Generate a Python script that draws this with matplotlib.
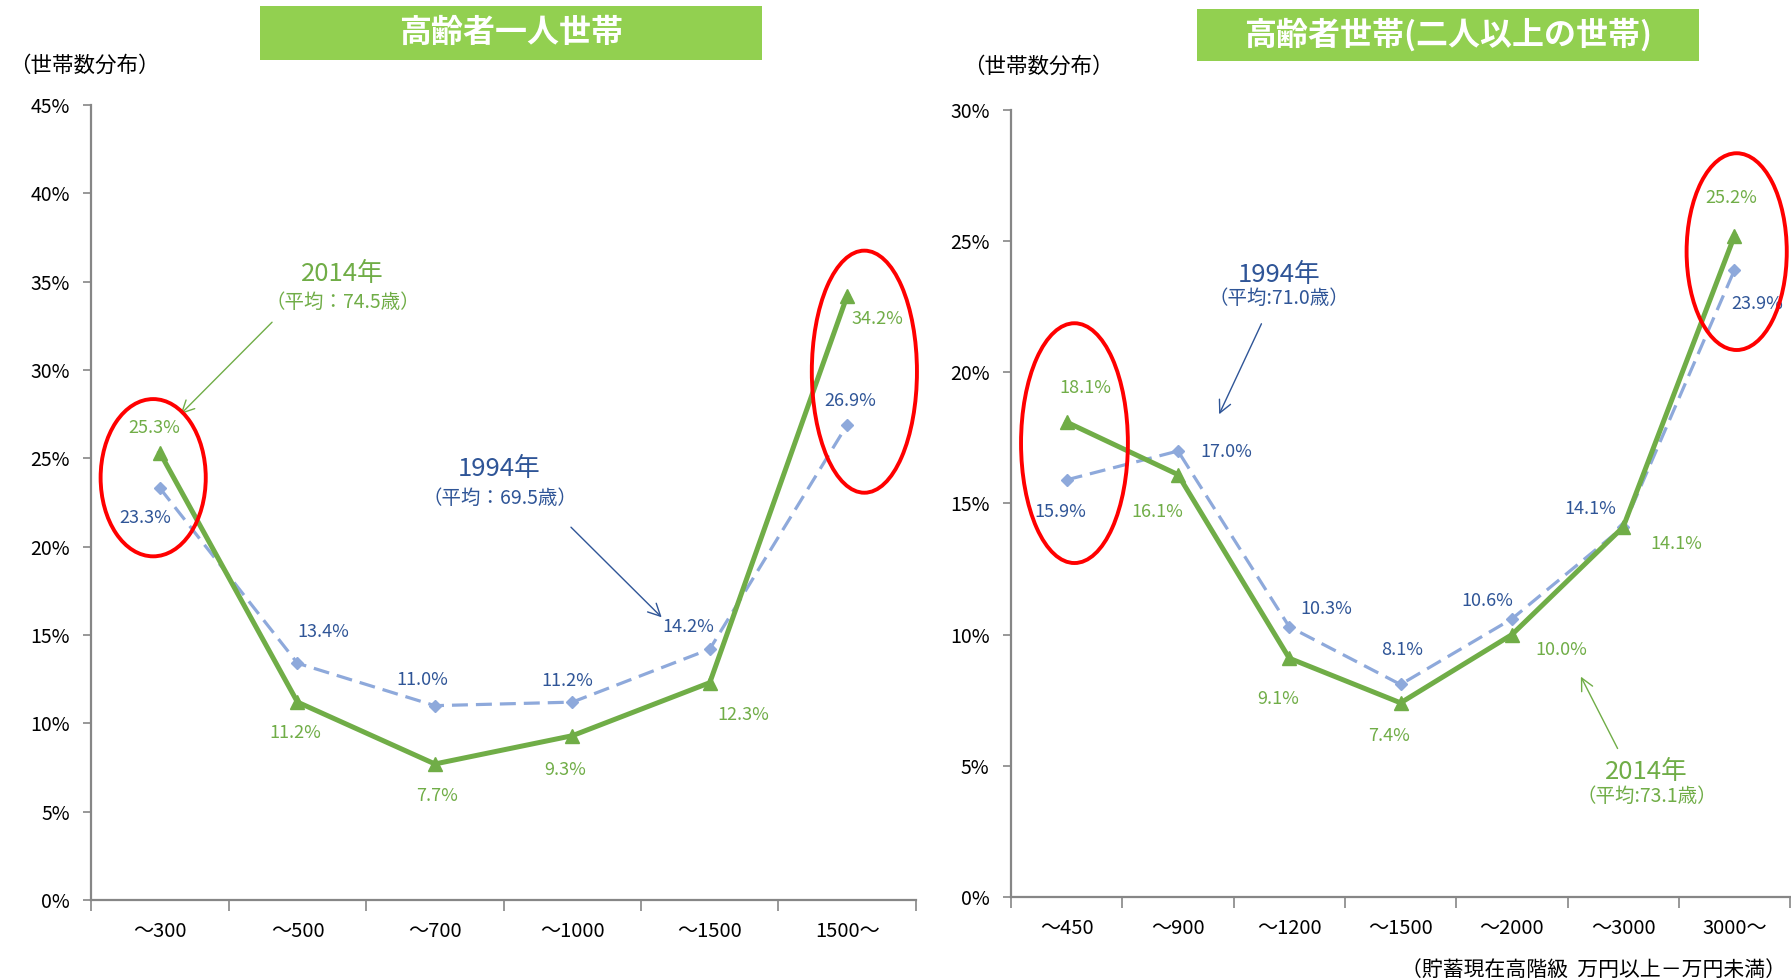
import matplotlib
matplotlib.use("Agg")
import matplotlib.pyplot as plt
from matplotlib.patches import Rectangle, Ellipse
from matplotlib.ticker import FixedLocator, PercentFormatter

plt.rcParams['font.family'] = ['Noto Sans CJK JP', 'DejaVu Sans']

# ---------------- data ----------------
left_cats = ["～300", "～500", "～700", "～1000", "～1500", "1500～"]
left_2014 = [25.3, 11.2, 7.7, 9.3, 12.3, 34.2]
left_1994 = [23.3, 13.4, 11.0, 11.2, 14.2, 26.9]

right_cats = ["～450", "～900", "～1200", "～1500", "～2000", "～3000", "3000～"]
right_2014 = [18.1, 16.1, 9.1, 7.4, 10.0, 14.1, 25.2]
right_1994 = [15.9, 17.0, 10.3, 8.1, 10.6, 14.1, 23.9]

left_title = "高齢者一人世帯"
right_title = "高齢者世帯(二人以上の世帯)"

# label offsets in pixels (style only)
left_off_2014 = [(-6, 25), (-2, -31), (2, -32), (-7, -34), (34, -32), (30, -23)]
left_off_1994 = [(-15, -30), (26, 31), (-13, 26), (-5, 21), (-21, 22), (3, 24)]
right_off_2014 = [(19, 34), (-21, -37), (-11, -41), (-11, -33), (49, -15), (53, -17), (-3, 38)]
right_off_1994 = [(-6, -32), (48, -1), (37, 18), (2, 34), (-25, 18), (-33, 18), (23, -34)]

GREEN = "#70AD47"
LBLUE = "#8EA9DB"
DBLUE = "#2F5597"
AXC = "#868686"
TITLE_BG = "#92D050"

fig = plt.figure(figsize=(17.91, 9.80), dpi=100)
axL = fig.add_axes([0.051, 0.0816, 0.4604, 0.8114])
axR = fig.add_axes([0.5645, 0.0847, 0.435, 0.8031])


def style_axes(ax, cats, ymax):
    n = len(cats)
    ax.set_xlim(-0.5, n - 0.5)
    ax.set_ylim(0, ymax)
    ax.set_yticks(range(0, ymax + 1, 5))
    ax.yaxis.set_major_formatter(PercentFormatter(decimals=0))
    ax.set_xticks(range(n))
    ax.set_xticklabels(cats)
    ax.xaxis.set_minor_locator(FixedLocator([i - 0.5 for i in range(n + 1)]))
    ax.tick_params(axis='x', which='major', length=0, pad=15, labelsize=14.5)
    ax.tick_params(axis='x', which='minor', length=8, color=AXC, width=1.2, direction='out')
    ax.tick_params(axis='y', length=5.5, color=AXC, width=1.2, pad=10, labelsize=14)
    for s in ['top', 'right']:
        ax.spines[s].set_visible(False)
    for s in ['left', 'bottom']:
        ax.spines[s].set_color(AXC)
        ax.spines[s].set_linewidth(1.6)
    ax.patch.set_alpha(0)


def draw_series(ax, v2014, v1994, off14, off94):
    x = list(range(len(v2014)))
    ax.plot(x, v1994, color=LBLUE, lw=2.3, ls=(0, (5, 2.5)), marker='D', ms=6.5,
            zorder=3)
    ax.plot(x, v2014, color=GREEN, lw=3.6, marker='^', ms=10, zorder=4)
    for xi, v, o in zip(x, v2014, off14):
        ax.annotate(f"{v:.1f}%", (xi, v), xytext=o, textcoords='offset pixels',
                    ha='center', va='center', color=GREEN, fontsize=13,
                    annotation_clip=False)
    for xi, v, o in zip(x, v1994, off94):
        ax.annotate(f"{v:.1f}%", (xi, v), xytext=o, textcoords='offset pixels',
                    ha='center', va='center', color=DBLUE, fontsize=13,
                    annotation_clip=False)


style_axes(axL, left_cats, 45)
style_axes(axR, right_cats, 30)
draw_series(axL, left_2014, left_1994, left_off_2014, left_off_1994)
draw_series(axR, right_2014, right_1994, right_off_2014, right_off_1994)


def legend_note(ax, x, y1, y2, year, avg, color, a_from, a_to):
    ax.text(x, y1, year, color=color, fontsize=18.5, ha='center', va='center')
    ax.text(x, y2, avg, color=color, fontsize=14, ha='center', va='center')
    ax.annotate("", xy=a_to, xytext=a_from,
                arrowprops=dict(arrowstyle='->', color=color, lw=1.0,
                                mutation_scale=22, shrinkA=0, shrinkB=0))


legend_note(axL, 1.33, 35.4, 33.8, "2014年", "（平均：74.5歳）", GREEN, (0.815, 32.7), (0.15, 27.5))
legend_note(axL, 2.47, 24.4, 22.7, "1994年", "（平均：69.5歳）", DBLUE, (2.99, 21.1), (3.65, 16.0))
legend_note(axR, 1.91, 23.7, 22.8, "1994年", "（平均:71.0歳）", DBLUE, (1.75, 21.85), (1.37, 18.4))
legend_note(axR, 5.21, 4.75, 3.83, "2014年", "（平均:73.1歳）", GREEN, (4.95, 5.66), (4.62, 8.4))

# red ellipses highlighting
for ax, (cx, cy, w, h) in [(axL, (-0.05, 23.9, 0.765, 8.9)),
                           (axL, (5.125, 29.9, 0.765, 13.7)),
                           (axR, (0.07, 17.3, 0.96, 9.14)),
                           (axR, (6.02, 24.6, 0.90, 7.5))]:
    ax.add_patch(Ellipse((cx, cy), w, h, fill=False, edgecolor='#FF0000', lw=2.8,
                         clip_on=False, zorder=6))

# title boxes
for (x0, y0, w, h), t in [((0.1452, 0.9388, 0.2803, 0.0551), left_title),
                          ((0.6683, 0.9378, 0.2803, 0.0531), right_title)]:
    fig.patches.append(Rectangle((x0, y0), w, h, transform=fig.transFigure,
                                 facecolor=TITLE_BG, edgecolor='none'))
    fig.text(x0 + w / 2, y0 + h / 2, t, color='white', fontsize=23, fontweight='bold',
             ha='center', va='center')

fig.text(9 / 1791, 1 - 66 / 980, "（世帯数分布）", fontsize=15.5, ha='left', va='center')
fig.text(963 / 1791, 1 - 67 / 980, "（世帯数分布）", fontsize=15.5, ha='left', va='center')
fig.text(1786 / 1791, 1 - 970 / 980, "（貯蓄現在高階級  万円以上－万円未満）", fontsize=15,
         ha='right', va='center')

fig.savefig("out.png", dpi=100)
